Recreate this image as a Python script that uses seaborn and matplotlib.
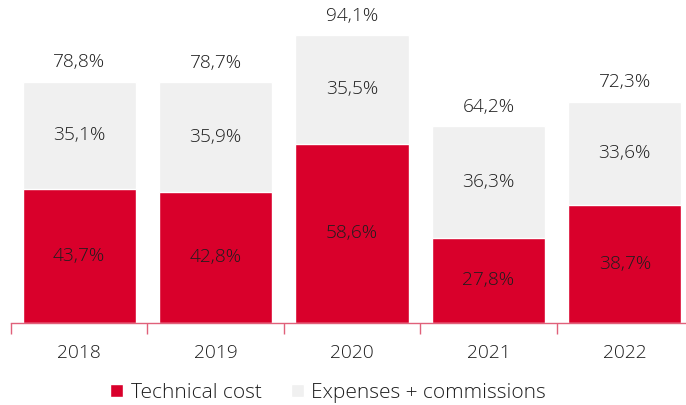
import pandas as pd
import matplotlib.pyplot as plt
import seaborn as sns
import numpy as np

years = ['2018', '2019', '2020', '2021', '2022']
technical_cost = [43.7, 42.8, 58.6, 27.8, 38.7]
expenses_commissions = [35.1, 35.9, 35.5, 36.3, 33.6]
totals = [78.8, 78.7, 94.1, 64.2, 72.3]

df = pd.DataFrame({'Year': years, 'Technical': technical_cost,
                   'Expenses': expenses_commissions, 'Total': totals})

red = '#d9002b'
grey = '#f0f0f0'
txt = '#1e1e1e'
fs = 13.8

sns.set_style("white")
plt.rcParams['font.family'] = ['Open Sans', 'DejaVu Sans']
plt.rcParams['font.weight'] = 300

fig = plt.figure(figsize=(6.86, 4.05), dpi=100)
ax = fig.add_axes([11 / 686, 82 / 405, 682 / 686, 323 / 405])

sns.barplot(x='Year', y='Total', data=df, color=grey, width=0.83,
            saturation=1, ax=ax, label='Expenses + commissions')
sns.barplot(x='Year', y='Technical', data=df, color=red, width=0.83,
            saturation=1, ax=ax, label='Technical cost')

def fmt(v):
    return f'{v:.1f}%'.replace('.', ',')

for i, (t, e, tot) in enumerate(zip(technical_cost, expenses_commissions, totals)):
    ax.text(i, t / 2, fmt(t), ha='center', va='center', fontsize=fs, color=txt)
    ax.text(i, t + e / 2, fmt(e), ha='center', va='center', fontsize=fs, color=txt)
    ax.text(i, tot + 6.3, fmt(tot), ha='center', va='center', fontsize=fs, color=txt)

handles, labels = ax.get_legend_handles_labels()
if ax.legend_ is not None:
    ax.legend_.remove()

ax.set_xlim(-0.5, 4.5)
ax.set_ylim(0, 105.5)
ax.set_xlabel('')
ax.set_ylabel('')
ax.set_yticks([])
for s in ['top', 'right', 'left']:
    ax.spines[s].set_visible(False)
ax.spines['bottom'].set_color('#e0607a')
ax.spines['bottom'].set_linewidth(1)
ax.set_xticks(np.arange(-0.5, 5, 1), minor=True)
ax.tick_params(axis='x', which='minor', bottom=True, length=8, color='#e0607a',
               width=1, direction='out')
ax.tick_params(axis='x', which='major', bottom=True, length=0, pad=15,
               labelsize=fs, labelcolor=txt)

order = [labels.index('Technical cost'), labels.index('Expenses + commissions')]
fig.legend([handles[k] for k in order], [labels[k] for k in order],
           loc='center', bbox_to_anchor=(0.478, 0.03), ncol=2, frameon=False,
           handlelength=0.65, handleheight=0.65, handletextpad=0.35, columnspacing=1.4,
           prop={'size': 15}, labelcolor=txt)

fig.savefig('out.png', dpi=100)
